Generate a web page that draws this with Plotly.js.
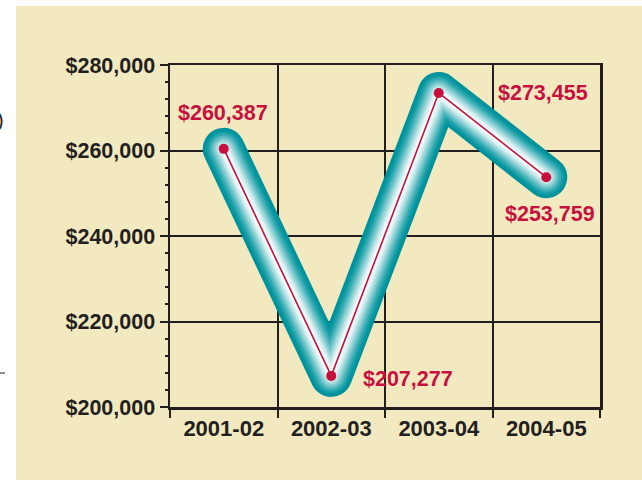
<!DOCTYPE html>
<html>
<head>
<meta charset="utf-8">
<script src="https://cdn.plot.ly/plotly-3.0.1.min.js"></script>
<style>
  html, body { margin: 0; padding: 0; background: #ffffff; }
  #chart { width: 642px; height: 480px; }
  .scatterlayer .js-line { stroke-linejoin: round; stroke-linecap: round; }
</style>
</head>
<body>
<div id="chart"></div>
<script>
// ---- data ----
var years = ['2001-02', '2002-03', '2003-04', '2004-05'];
var values = [260387, 207277, 273455, 253759];
var valueLabels = ['$260,387', '$207,277', '$273,455', '$253,759'];
var yTickVals = [200000, 220000, 240000, 260000, 280000];
var yTickText = ['$200,000', '$220,000', '$240,000', '$260,000', '$280,000'];

// ---- style ----
var FONT = '"Liberation Sans", Arial, Helvetica, sans-serif';
var INK = '#231F20';
var RED = '#C8103E';
var BEIGE = '#F3E9C1';
var tubeWidths = [42, 38, 34, 30, 26, 22, 18, 14, 10, 6];
var tubeColors = ['#00929B', '#0596A0', '#1A9FA8', '#35ABB2', '#55B9BF', '#78C7CC', '#9BD6DA', '#BDE5E7', '#DCF1F2', '#F5FBFB'];

var traces = [];
tubeWidths.forEach(function (w, i) {
  traces.push({
    type: 'scatter', mode: 'lines',
    x: years, y: values,
    line: { color: tubeColors[i], width: w },
    hoverinfo: 'skip', showlegend: false
  });
});
traces.push({
  type: 'scatter', mode: 'lines+markers',
  x: years, y: values,
  line: { color: RED, width: 1.6 },
  marker: { color: RED, size: 10 },
  showlegend: false
});

// label offsets (pixels) relative to each point
var labelPos = [
  { xanchor: 'center', xshift: -1, yshift: 36 },
  { xanchor: 'left', xshift: 30, yshift: -3 },
  { xanchor: 'left', xshift: 57, yshift: 0 },
  { xanchor: 'center', xshift: 4, yshift: -37 }
];
var annotations = years.map(function (yr, i) {
  return {
    x: yr, y: values[i], xref: 'x', yref: 'y',
    text: valueLabels[i], showarrow: false,
    xanchor: labelPos[i].xanchor, yanchor: 'middle',
    xshift: labelPos[i].xshift, yshift: labelPos[i].yshift,
    font: { family: FONT, size: 21.5, color: RED, weight: 'bold' }
  };
});
// stray glyph at the left edge
annotations.push({
  x: -0.381, y: 0.84, xref: 'paper', yref: 'paper',
  text: ')', showarrow: false, xanchor: 'right', yanchor: 'middle',
  font: { family: FONT, size: 20, color: INK }
});

var layout = {
  width: 642, height: 480,
  margin: { l: 170, r: 42, t: 65, b: 73, pad: 0 },
  paper_bgcolor: '#ffffff',
  plot_bgcolor: 'rgba(0,0,0,0)',
  showlegend: false,
  xaxis: {
    type: 'category',
    range: [-0.5, 3.5],
    tickson: 'boundaries',
    showgrid: true, gridcolor: INK, gridwidth: 2,
    showline: true, linecolor: INK, linewidth: 2.5, mirror: true,
    ticks: 'outside', ticklen: 8, tickwidth: 2, tickcolor: INK,
    tickfont: { family: FONT, size: 22, color: INK, weight: 'bold' },
    zeroline: false, fixedrange: true
  },
  yaxis: {
    range: [200000, 280000],
    tickmode: 'array',
    tickvals: yTickVals,
    ticktext: yTickText,
    showgrid: true, gridcolor: INK, gridwidth: 2,
    showline: true, linecolor: INK, linewidth: 2.5, mirror: true,
    ticks: 'outside', ticklen: 8, tickwidth: 2, tickcolor: INK,
    minor: { dtick: 4000, ticks: 'outside', ticklen: 3, tickwidth: 2, tickcolor: INK, showgrid: false },
    tickfont: { family: FONT, size: 21.5, color: INK, weight: 'bold' },
    zeroline: false, fixedrange: true
  },
  shapes: [
    { type: 'rect', layer: 'below', xref: 'paper', yref: 'paper',
      x0: -0.3581, x1: 1.2, y0: -0.25, y1: 1.1725,
      fillcolor: BEIGE, line: { width: 0 } },
    { type: 'line', xref: 'paper', yref: 'paper',
      x0: -0.3953, x1: -0.3837, y0: 0.0994, y1: 0.0994,
      line: { color: INK, width: 1 } }
  ],
  annotations: annotations
};

Plotly.newPlot('chart', traces, layout, { displayModeBar: false, staticPlot: true });
</script>
</body>
</html>
